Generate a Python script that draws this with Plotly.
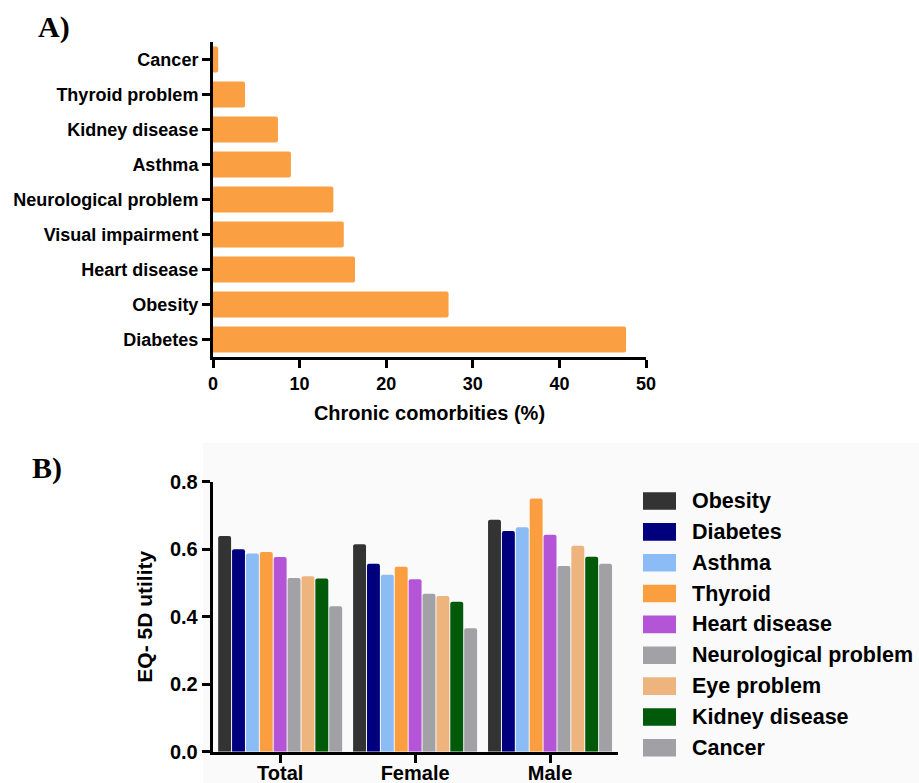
import plotly.graph_objects as go

# ---------------- Data ----------------
# Panel A (bottom-to-top order as drawn)
conditions = ["Diabetes", "Obesity", "Heart disease", "Visual impairment",
              "Neurological problem", "Asthma", "Kidney disease",
              "Thyroid problem", "Cancer"]
prevalence = [47.7, 27.2, 16.4, 15.1, 13.9, 9.0, 7.5, 3.7, 0.6]
a_xticks = [0, 10, 20, 30, 40, 50]

# Panel B
groups = ["Total", "Female", "Male"]
series_names = ["Obesity", "Diabetes", "Asthma", "Thyroid", "Heart disease",
                "Neurological problem", "Eye problem", "Kidney disease", "Cancer"]
obesity = [0.639, 0.615, 0.687]
diabetes = [0.600, 0.557, 0.654]
asthma = [0.587, 0.524, 0.665]
thyroid = [0.592, 0.548, 0.750]
heart_disease = [0.577, 0.511, 0.643]
neurological = [0.515, 0.468, 0.550]
eye_problem = [0.520, 0.461, 0.610]
kidney_disease = [0.513, 0.444, 0.578]
cancer = [0.431, 0.366, 0.557]
b_yticks = [0.0, 0.2, 0.4, 0.6, 0.8]

series_values = [obesity, diabetes, asthma, thyroid, heart_disease,
                 neurological, eye_problem, kidney_disease, cancer]
series_colors = ["#333333", "#00007f", "#8cbcf5", "#fb9e40", "#b455d8",
                 "#a2a2a6", "#edb47e", "#005a0a", "#a0a0a5"]

W, H = 919, 783
SANS = "Liberation Sans, Arial, sans-serif"
SERIF = "Liberation Serif, Times New Roman, serif"


def px_x(v):
    return v / W


def px_y(v):
    return 1 - v / H


fig = go.Figure()

# Panel A bars
fig.add_trace(go.Bar(
    x=prevalence, y=conditions, orientation="h",
    marker=dict(color="#fa9f42", line=dict(width=0)),
    width=0.74, xaxis="x", yaxis="y", showlegend=False,
))

# Panel B grouped bars
for name, vals, col in zip(series_names, series_values, series_colors):
    fig.add_trace(go.Bar(
        x=groups, y=vals, name=name,
        marker=dict(color=col, line=dict(width=0)),
        xaxis="x2", yaxis="y2", showlegend=False,
    ))

axis_common = dict(
    showline=True, linecolor="black", linewidth=3,
    ticks="outside", ticklen=8, tickwidth=3, tickcolor="black",
    showgrid=False, zeroline=False, automargin=False,
)

fig.update_layout(
    width=W, height=H,
    margin=dict(l=0, r=0, t=0, b=0),
    paper_bgcolor="white", plot_bgcolor="rgba(0,0,0,0)",
    barmode="group", bargap=0.074, bargroupgap=0.07,
    barcornerradius=2,
    font=dict(family=SANS, color="black"),
    xaxis=dict(
        domain=[px_x(213), px_x(646)], anchor="y",
        range=[0, 50], tickvals=a_xticks,
        tickfont=dict(family=SANS, size=18, weight="bold", color="black"),
        title=dict(text="Chronic comorbities (%)", standoff=14,
                   font=dict(family=SANS, size=20, weight="bold", color="black")),
        **axis_common,
    ),
    yaxis=dict(
        domain=[px_y(357), px_y(42)], anchor="x",
        type="category", categoryorder="array", categoryarray=conditions,
        range=[-0.5, len(conditions) - 0.5],
        tickfont=dict(family=SANS, size=18, weight="bold", color="black"),
        **axis_common,
    ),
    xaxis2=dict(
        domain=[px_x(212.7), px_x(617.5)], anchor="y2",
        type="category", categoryorder="array", categoryarray=groups,
        range=[-0.5, len(groups) - 0.5],
        tickfont=dict(family=SANS, size=20, weight="bold", color="black"),
        ticklabelstandoff=-7,
        **axis_common,
    ),
    yaxis2=dict(
        domain=[px_y(751.7), px_y(481.7)], anchor="x2",
        range=[0, 0.8], tickvals=b_yticks, tickformat=".1f",
        tickfont=dict(family=SANS, size=20, weight="bold", color="black"),
        title=dict(text="EQ- 5D utility", standoff=12,
                   font=dict(family=SANS, size=21, weight="bold", color="black")),
        **axis_common,
    ),
)

# faint background behind panel B
fig.add_shape(type="rect", xref="paper", yref="paper",
              x0=px_x(203), x1=1, y0=0, y1=px_y(443),
              fillcolor="#fafafa", line=dict(width=0), layer="below")

# Panel labels
fig.add_annotation(text="A)", xref="paper", yref="paper", x=px_x(36), y=px_y(27),
                   xanchor="left", yanchor="middle", showarrow=False,
                   font=dict(family=SERIF, size=30, weight="bold", color="black"))
fig.add_annotation(text="B)", xref="paper", yref="paper", x=px_x(30), y=px_y(468),
                   xanchor="left", yanchor="middle", showarrow=False,
                   font=dict(family=SERIF, size=30, weight="bold", color="black"))

# Legend for panel B (drawn manually for large swatches)
leg_top, leg_step = 501, 30.85
for i, (name, col) in enumerate(zip(series_names, series_colors)):
    cy = leg_top + i * leg_step
    fig.add_shape(type="rect", xref="paper", yref="paper",
                  x0=px_x(643), x1=px_x(676), y0=px_y(cy + 8.8), y1=px_y(cy - 8.8),
                  fillcolor=col, line=dict(width=0))
    fig.add_annotation(text=name, xref="paper", yref="paper",
                       x=px_x(690), y=px_y(cy), xanchor="left", yanchor="middle",
                       showarrow=False,
                       font=dict(family=SANS, size=21.5, weight="bold", color="black"))

fig.write_html(
    "out.html",
    config={"displayModeBar": False},
    post_script="document.body.style.margin='0';document.body.style.padding='0';"
                "document.documentElement.style.overflow='hidden';",
)
